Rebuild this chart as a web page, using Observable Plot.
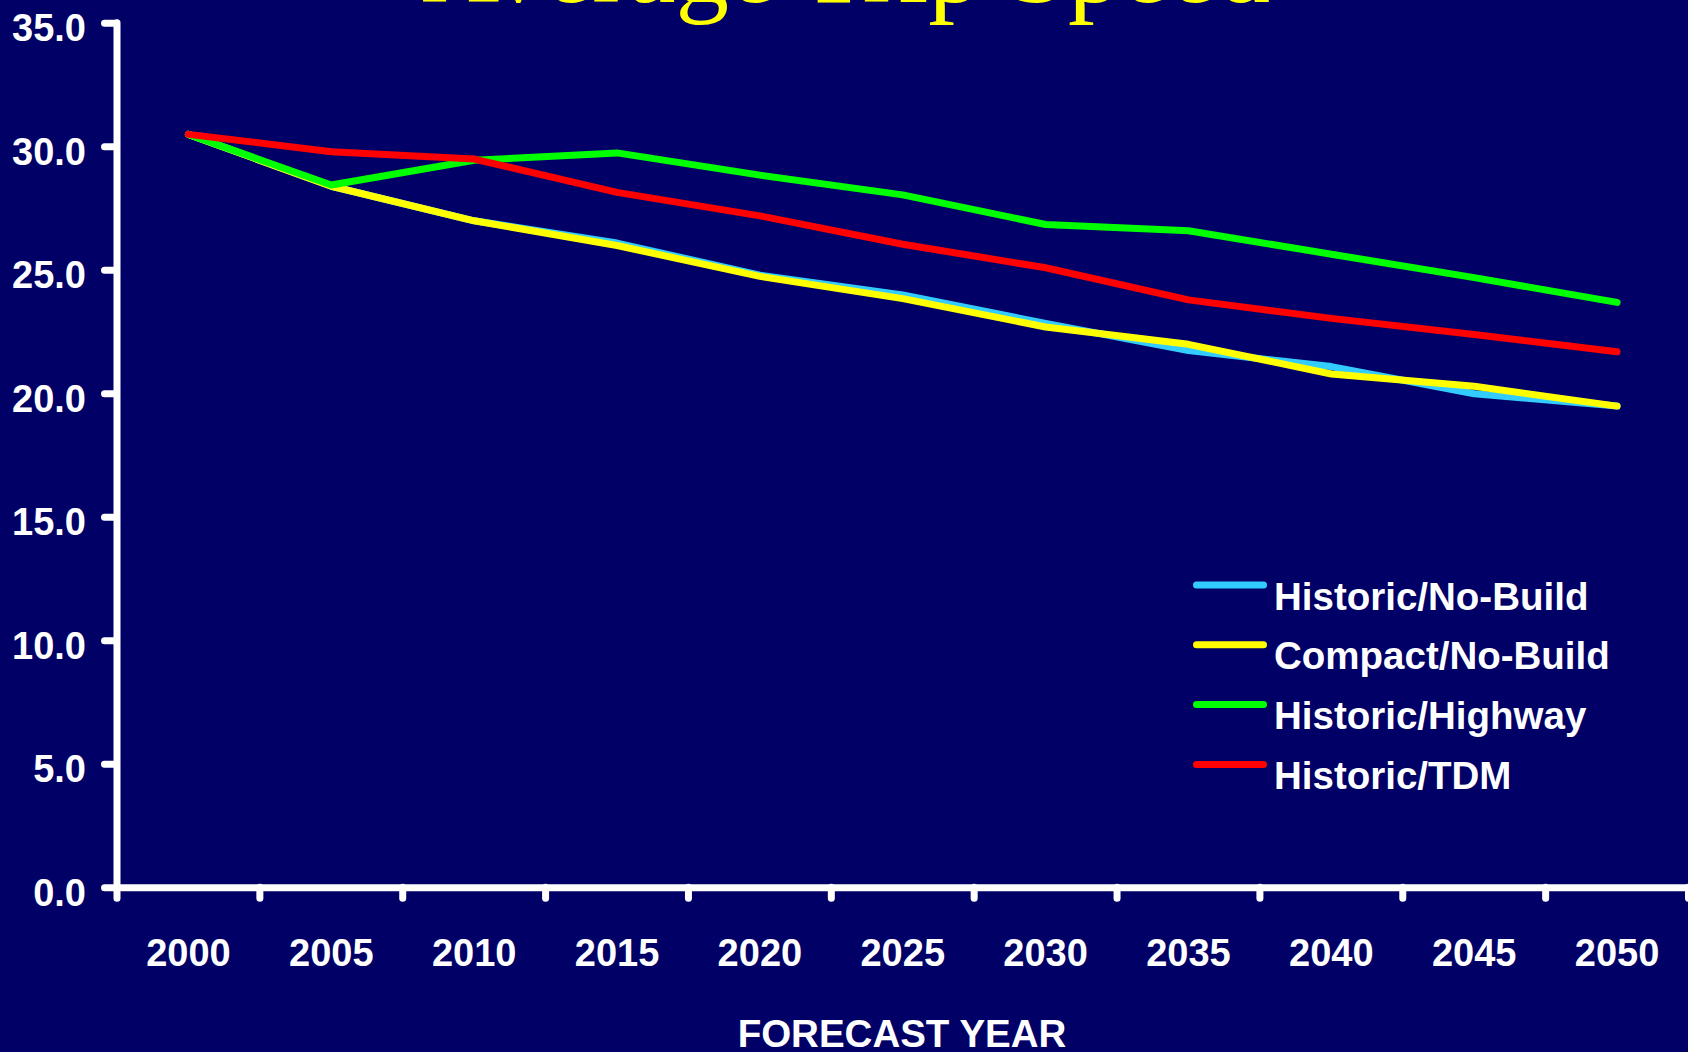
<!DOCTYPE html>
<html><head><meta charset="utf-8">
<script src="https://cdn.jsdelivr.net/npm/d3@7"></script>
<script src="https://cdn.jsdelivr.net/npm/@observablehq/plot@0.6"></script>
<style>
html,body{margin:0;padding:0;background:#000066;overflow:hidden;}
#wrap{position:relative;width:1688px;height:1052px;}
#overlay{position:absolute;left:0;top:0;pointer-events:none;}
</style></head><body><div id="wrap"></div>
<script>
const years = [2000, 2005, 2010, 2015, 2020, 2025, 2030, 2035, 2040, 2045, 2050];
const seriesNames = ["Historic/No-Build", "Compact/No-Build", "Historic/Highway", "Historic/TDM"];
const seriesColors = ["#33CCFF", "#FFFF00", "#00FF00", "#FF0000"];
const historicNoBuild = [30.5, 28.4, 27.0, 26.1, 24.8, 24.0, 22.85, 21.75, 21.1, 20.0, 19.5];
const compactNoBuild  = [30.5, 28.4, 27.0, 26.0, 24.75, 23.85, 22.7, 22.0, 20.8, 20.3, 19.5];
const historicHighway = [30.5, 28.45, 29.45, 29.75, 28.85, 28.05, 26.85, 26.6, 25.65, 24.7, 23.7];
const historicTDM     = [30.5, 29.8, 29.5, 28.15, 27.2, 26.05, 25.1, 23.8, 23.05, 22.4, 21.7];
const yTicks = [0, 5, 10, 15, 20, 25, 30, 35];
const titleText = "Average Trip Speed";
const xLabelText = "FORECAST YEAR";

const allSeries = [historicNoBuild, compactNoBuild, historicHighway, historicTDM];
const rows = [];
allSeries.forEach((vals, i) => vals.forEach((v, j) => rows.push({series: seriesNames[i], year: years[j], speed: v})));

const half = (years[1] - years[0]) / 2;
const bounds = [years[0] - half, ...years.map(y => y + half)];

const chart = Plot.plot({
  width: 1688, height: 1052,
  marginTop: 22.7, marginBottom: 164.7, marginLeft: 116.5, marginRight: 0,
  style: {background: "#000066", color: "white", fontFamily: "'Liberation Sans', Arial, sans-serif", fontSize: "38px", fontWeight: "bold", overflow: "visible"},
  x: {type: "linear", domain: [bounds[0], bounds[bounds.length - 1]], axis: null},
  y: {domain: [yTicks[0], yTicks[yTicks.length - 1]], axis: null},
  color: {domain: seriesNames, range: seriesColors},
  marks: [
    Plot.axisY({ticks: yTicks, tickSize: 12, tickFormat: () => "", strokeWidth: 7, strokeLinecap: "round", label: null}),
    Plot.axisY({ticks: yTicks, tickSize: 0, tickPadding: 31, dy: 6, tickFormat: d => d.toFixed(1), label: null, fontSize: 38, fontWeight: "bold"}),
    Plot.axisX({ticks: bounds, tickSize: 11, tickFormat: () => "", strokeWidth: 7, strokeLinecap: "round", label: null}),
    Plot.axisX({ticks: years, tickSize: 0, tickPadding: 51, tickFormat: d => String(d), label: null, fontSize: 38, fontWeight: "bold"}),
    Plot.ruleY([yTicks[0]], {stroke: "white", strokeWidth: 7, strokeLinecap: "round"}),
    Plot.ruleX([bounds[0]], {stroke: "white", strokeWidth: 7, strokeLinecap: "round"}),
    Plot.line(rows, {x: "year", y: "speed", z: "series", stroke: "series", strokeWidth: 7, strokeLinecap: "round", strokeLinejoin: "round"})
  ]
});
const wrap = document.getElementById("wrap");
wrap.appendChild(chart);

const ov = d3.select(wrap).append("svg").attr("id", "overlay").attr("width", 1688).attr("height", 1052);
ov.append("text").text(titleText)
  .attr("x", 422).attr("y", 1.5)
  .attr("font-family", "'Liberation Serif', 'Times New Roman', serif")
  .attr("font-size", 107).attr("fill", "#FFFF00");
ov.append("text").text(xLabelText)
  .attr("x", 902).attr("y", 1047).attr("text-anchor", "middle")
  .attr("font-family", "'Liberation Sans', Arial, sans-serif")
  .attr("font-size", 38.5).attr("font-weight", "bold").attr("fill", "white");
const leg = ov.append("g");
seriesNames.forEach((name, i) => {
  const y = 585 + i * 59.8;
  leg.append("line").attr("x1", 1196.5).attr("x2", 1263.5).attr("y1", y).attr("y2", y)
    .attr("stroke", seriesColors[i]).attr("stroke-width", 7).attr("stroke-linecap", "round");
  leg.append("text").text(name).attr("x", 1274).attr("y", y + 24.5)
    .attr("font-family", "'Liberation Sans', Arial, sans-serif")
    .attr("font-size", 38.5).attr("font-weight", "bold").attr("fill", "white");
});
</script></body></html>
